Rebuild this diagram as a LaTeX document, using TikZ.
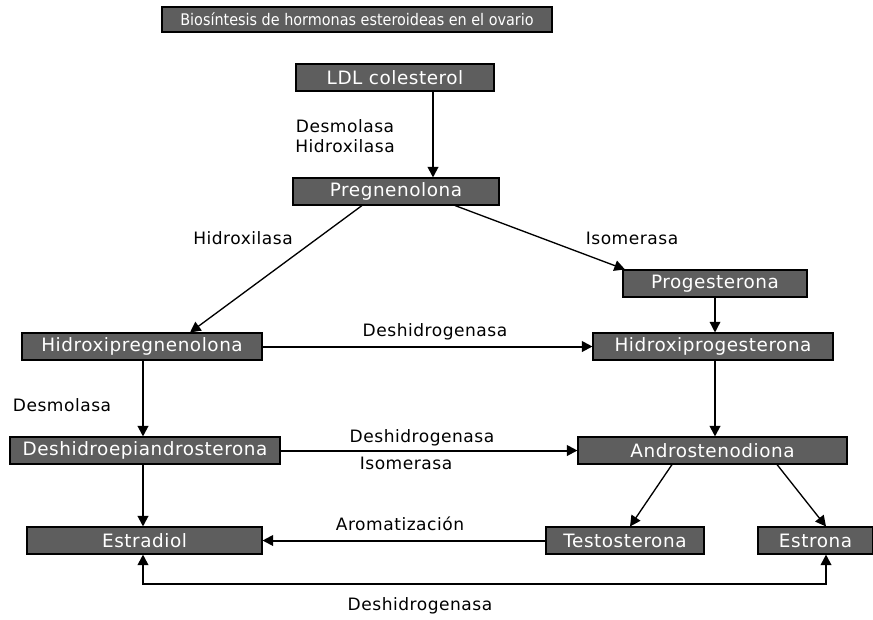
\documentclass[tikz,border=0pt]{standalone}
\usepackage{fontspec}
\setmainfont{DejaVu Sans}[LetterSpace=3]
\newfontfamily\cajafont{DejaVu Sans}[LetterSpace=3]
\newfontfamily\titulofont{DejaVu Sans Condensed}
\usetikzlibrary{arrows.meta,calc}
\definecolor{CajaClr}{rgb}{0.37,0.37,0.37}

\tikzset{
  caja/.style={draw=black,fill=CajaClr,text=white,line width=0.8pt,
    inner sep=0pt,minimum height=20.25pt,font=\cajafont\fontsize{13.8}{15}\selectfont},
  enzima/.style={font=\fontsize{12.8}{15}\selectfont,inner sep=1pt},
  flecha/.style={line width=1.5pt,-{Triangle[length=8pt,width=8pt]}},
  flechafina/.style={line width=1pt,-{Triangle[length=8pt,width=8pt]}}
}

\begin{document}
\begin{tikzpicture}[x=0.75pt,y=-0.75pt]
\useasboundingbox (0,0) rectangle (873,619);

\node[caja,minimum width=292.5pt,minimum height=18.75pt,font=\titulofont\fontsize{12}{13}\selectfont] (titulo) at (357,19.5) {Biosíntesis de hormonas esteroideas en el ovario};

\node[caja,minimum width=148.5pt] (ldl) at (395,77.5) {LDL colesterol};
\node[caja,minimum width=154.5pt] (preg) at (396,191.5) {Pregnenolona};
\node[caja,minimum width=138pt] (prog) at (715,283.5) {Progesterona};
\node[caja,minimum width=180pt] (hpreg) at (142,346.5) {Hidroxipregnenolona};
\node[caja,minimum width=180pt] (hprog) at (713,346.5) {Hidroxiprogesterona};
\node[caja,minimum width=202.5pt] (dhea) at (145,450.5) {Deshidroepiandrosterona};
\node[caja,minimum width=201.75pt] (andro) at (712.5,450.5) {Androstenodiona};
\node[caja,minimum width=176.25pt] (estradiol) at (144.5,540.5) {Estradiol};
\node[caja,minimum width=118.5pt] (testo) at (625,540.5) {Testosterona};
\node[caja,minimum width=86.25pt] (estrona) at (815.5,540.5) {Estrona};

% enzimas
\node[enzima,align=center] (e1) at (345,136) {Desmolasa\\Hidroxilasa};
\node[enzima] (e2) at (243,238) {Hidroxilasa};
\node[enzima] (e3) at (632,238) {Isomerasa};
\node[enzima] (e4) at (435,332) {Deshidrogenasa};
\node[enzima] (e5) at (62,405) {Desmolasa};
\node[enzima] (e6) at (422,438) {Deshidrogenasa};
\node[enzima] (e7) at (406,463) {Isomerasa};
\node[enzima] (e8) at (400,524) {Aromatización};
\node[enzima] (e9) at (420,606) {Deshidrogenasa};

\coordinate (c1) at (143,584);
\coordinate (c2) at (826,584);

\draw[flecha] (ldl.south -| 433,0) -- (preg.north -| 433,0);
\draw[flechafina] (preg.south -| 362,0) -- (hpreg.north -| 190,0);
\draw[flechafina] (preg.south -| 455,0) -- (prog.north -| 625,0);
\draw[flechafina] (prog) -- (hprog.north -| prog);
\draw[flecha] (hpreg) -- (hprog);
\draw[flecha] (hpreg.south -| 143,0) -- (dhea.north -| 143,0);
\draw[flecha] (hprog.south -| 715,0) -- (andro.north -| 715,0);
\draw[flecha] (dhea) -- (andro);
\draw[flecha] (dhea.south -| 143,0) -- (estradiol.north -| 143,0);
\draw[flechafina] (andro.south -| 672,0) -- (testo.north -| 630,0);
\draw[flechafina] (andro.south -| 777,0) -- (estrona.north -| 826,0);
\draw[flecha] (testo) -- (estradiol);
\draw[line width=1.5pt,{Triangle[length=8pt,width=8pt]}-{Triangle[length=8pt,width=8pt]}]
  (estradiol.south -| c1) -- (c1) -- (c2) -- (estrona.south -| c2);

\end{tikzpicture}
\end{document}
